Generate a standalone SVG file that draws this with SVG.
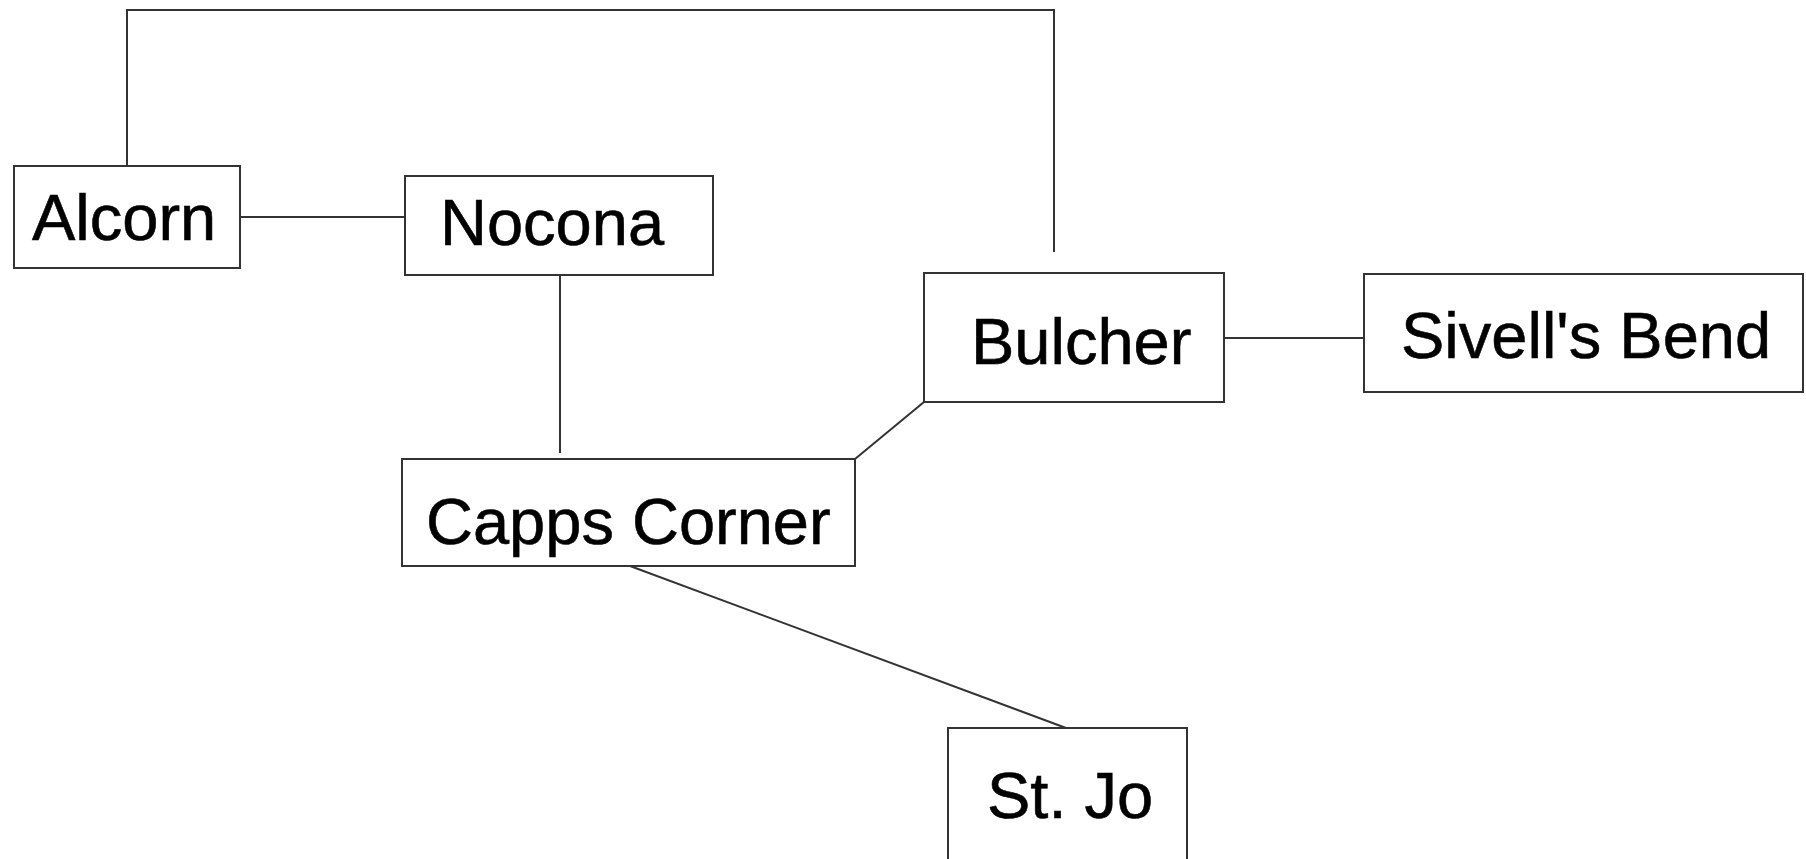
<svg xmlns="http://www.w3.org/2000/svg" width="1806" height="859" viewBox="0 0 1806 859">
<style>
.box{fill:#fff;stroke:#333;stroke-width:2}
.lbl{font-family:"Liberation Sans",Arial,sans-serif;font-size:65px;fill:#000;stroke:#000;stroke-width:0.6}
.edge{fill:none;stroke:#333;stroke-width:2}
</style>
<rect width="1806" height="859" fill="#fff"/>
<g id="connectors">
<polyline class="edge" points="127,166 127,10 1054,10 1054,252"/>
<line class="edge" x1="240" y1="217" x2="405" y2="217"/>
<line class="edge" x1="560" y1="275" x2="560" y2="453"/>
<line class="edge" x1="1224" y1="338" x2="1364" y2="338"/>
<line class="edge" x1="855" y1="459" x2="924" y2="402"/>
<line class="edge" x1="630" y1="566" x2="1066" y2="728"/>
</g>
<g id="alcorn">
<rect class="box" x="14" y="166" width="226" height="102"/>
<text class="lbl" x="32" y="240">Alcorn</text>
</g>
<g id="nocona">
<rect class="box" x="405" y="176" width="308" height="99"/>
<text class="lbl" x="440" y="245">Nocona</text>
</g>
<g id="capps-corner">
<rect class="box" x="402" y="459" width="453" height="107"/>
<text class="lbl" x="426" y="544">Capps Corner</text>
</g>
<g id="bulcher">
<rect class="box" x="924" y="273" width="300" height="129"/>
<text class="lbl" x="971" y="364">Bulcher</text>
</g>
<g id="sivells-bend">
<rect class="box" x="1364" y="274" width="439" height="118"/>
<text class="lbl" x="1401" y="358">Sivell's Bend</text>
</g>
<g id="st-jo">
<rect class="box" x="948" y="728" width="239" height="150"/>
<text class="lbl" x="987" y="818">St. Jo</text>
</g>
</svg>
